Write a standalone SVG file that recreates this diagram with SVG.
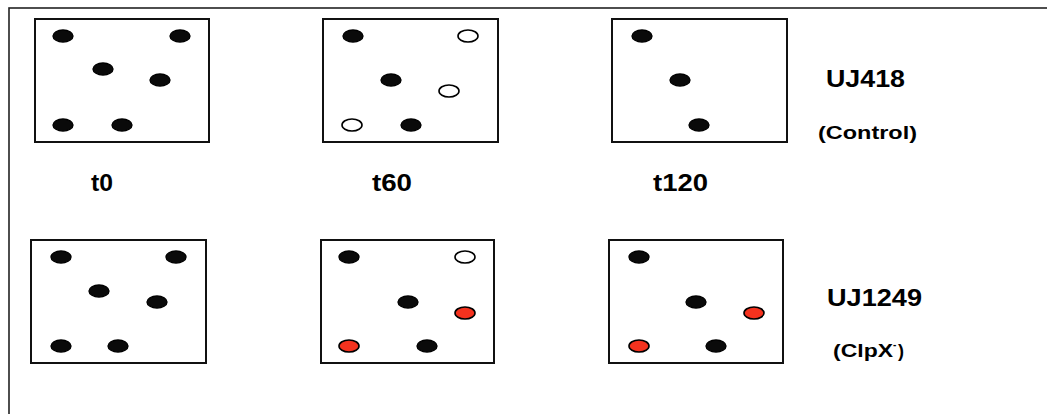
<svg xmlns="http://www.w3.org/2000/svg" width="1047" height="414" viewBox="0 0 1047 414">
<style>
.frame{fill:none;stroke:#222;stroke-width:1.6}
.box{fill:#fff;stroke:#111;stroke-width:2}
.f{fill:#0a0a0a;stroke:#000;stroke-width:1.4}
.o{fill:#fff;stroke:#000;stroke-width:1.6}
.r{fill:#f5321e;stroke:#000;stroke-width:1.6}
.t{font-family:"Liberation Sans",Arial,sans-serif;font-weight:bold;fill:#000}
.big{font-size:24px}
.sm{font-size:18px}
</style>
<rect x="9" y="8" width="1060" height="430" class="frame"/>
<g id="box-t0-control">
<rect x="35" y="19" width="174" height="123" class="box"/>
<ellipse cx="63" cy="36" rx="10" ry="6" class="f"/>
<ellipse cx="180" cy="36" rx="10" ry="6" class="f"/>
<ellipse cx="103" cy="69" rx="10" ry="6" class="f"/>
<ellipse cx="160" cy="80" rx="10" ry="6" class="f"/>
<ellipse cx="63" cy="125" rx="10" ry="6" class="f"/>
<ellipse cx="122" cy="125" rx="10" ry="6" class="f"/>
</g>
<g id="box-t60-control">
<rect x="323" y="19" width="175" height="123" class="box"/>
<ellipse cx="353" cy="36" rx="10" ry="6" class="f"/>
<ellipse cx="468" cy="36" rx="10" ry="6" class="o"/>
<ellipse cx="391" cy="80" rx="10" ry="6" class="f"/>
<ellipse cx="449" cy="91" rx="10" ry="6" class="o"/>
<ellipse cx="352" cy="125" rx="10" ry="6" class="o"/>
<ellipse cx="411" cy="125" rx="10" ry="6" class="f"/>
</g>
<g id="box-t120-control">
<rect x="612" y="19" width="175" height="123" class="box"/>
<ellipse cx="642" cy="36" rx="10" ry="6" class="f"/>
<ellipse cx="680" cy="80" rx="10" ry="6" class="f"/>
<ellipse cx="699" cy="125" rx="10" ry="6" class="f"/>
</g>
<g id="labels-top">
<text x="826" y="87" class="t big" textLength="79" lengthAdjust="spacingAndGlyphs">UJ418</text>
<text x="818" y="139" class="t sm" textLength="99" lengthAdjust="spacingAndGlyphs">(Control)</text>
<text x="91" y="191" class="t big" textLength="22" lengthAdjust="spacingAndGlyphs">t0</text>
<text x="372" y="191" class="t big" textLength="40" lengthAdjust="spacingAndGlyphs">t60</text>
<text x="653" y="191" class="t big" textLength="55" lengthAdjust="spacingAndGlyphs">t120</text>
</g>
<g id="box-t0-clpx">
<rect x="31" y="240" width="175" height="123" class="box"/>
<ellipse cx="61" cy="257" rx="10" ry="6" class="f"/>
<ellipse cx="176" cy="257" rx="10" ry="6" class="f"/>
<ellipse cx="99" cy="291" rx="10" ry="6" class="f"/>
<ellipse cx="157" cy="302" rx="10" ry="6" class="f"/>
<ellipse cx="61" cy="346" rx="10" ry="6" class="f"/>
<ellipse cx="118" cy="346" rx="10" ry="6" class="f"/>
</g>
<g id="box-t60-clpx">
<rect x="321" y="240" width="173" height="123" class="box"/>
<ellipse cx="349" cy="257" rx="10" ry="6" class="f"/>
<ellipse cx="465" cy="257" rx="10" ry="6" class="o"/>
<ellipse cx="408" cy="302" rx="10" ry="6" class="f"/>
<ellipse cx="465" cy="313" rx="10" ry="6" class="r"/>
<ellipse cx="349" cy="346" rx="10" ry="6" class="r"/>
<ellipse cx="427" cy="346" rx="10" ry="6" class="f"/>
</g>
<g id="box-t120-clpx">
<rect x="609" y="240" width="174" height="123" class="box"/>
<ellipse cx="639" cy="257" rx="10" ry="6" class="f"/>
<ellipse cx="696" cy="302" rx="10" ry="6" class="f"/>
<ellipse cx="754" cy="313" rx="10" ry="6" class="r"/>
<ellipse cx="639" cy="346" rx="10" ry="6" class="r"/>
<ellipse cx="716" cy="346" rx="10" ry="6" class="f"/>
</g>
<g id="labels-bottom">
<text x="827" y="306" class="t big" textLength="95" lengthAdjust="spacingAndGlyphs">UJ1249</text>
<text x="833" y="357" class="t sm" textLength="60" lengthAdjust="spacingAndGlyphs">(ClpX</text>
<text x="893" y="348" class="t" font-size="10">-</text>
<text x="898" y="357" class="t sm">)</text>
</g>
</svg>
